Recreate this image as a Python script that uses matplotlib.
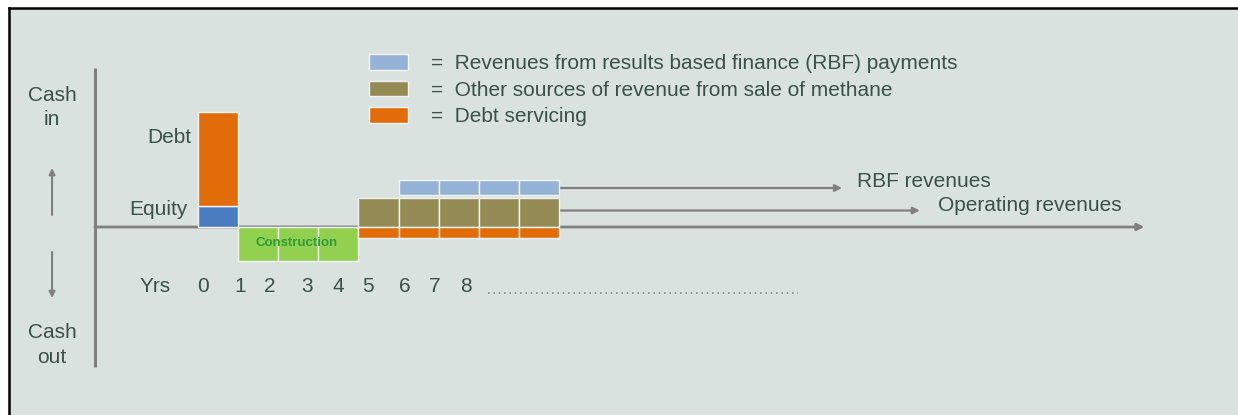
import numpy as np
import matplotlib.pyplot as plt
from matplotlib.patches import Patch

# cash flow profile of the project, one cell per year (+ = cash in, - = cash out)
years = np.arange(9)
equity       = [2.1, 0, 0, 0, 0, 0, 0, 0, 0]
debt         = [9.4, 0, 0, 0, 0, 0, 0, 0, 0]
construction = [0, -3.4, -3.4, -3.4, 0, 0, 0, 0, 0]
methane_rev  = [0, 0, 0, 0, 2.9, 2.9, 2.9, 2.9, 2.9]
rbf_rev      = [0, 0, 0, 0, 0, 1.5, 1.5, 1.5, 1.5]
debt_service = [0, 0, 0, 0, -1.1, -1.1, -1.1, -1.1, -1.1]

year_labels = ['0', '1', '2', '3', '4', '5', '6', '7', '8']
legend_labels = ['Revenues from results based finance (RBF) payments',
                 'Other sources of revenue from sale of methane',
                 'Debt servicing']

# colours
BG = '#dae2df'
TXT = '#3a5049'
GREY = '#7f7f7f'
C_EQ, C_DEBT, C_RBF = '#4a7dc0', '#e36c0a', '#95b3d7'
C_METH, C_CONS = '#948a54', '#92d050'

W, H, DPI = 1238, 415, 100
X0, U = 198, 40.1   # pixel of year 0, pixels per year
Y0, V = 227, 10.0   # pixel of zero cash, pixels per unit

fig = plt.figure(figsize=(W / DPI, H / DPI), dpi=DPI, facecolor='white')
ax = fig.add_axes([9 / W, 0, (W - 9) / W, (H - 8) / H])
ax.set_facecolor(BG)
ax.set_xlim((9 - X0) / U, (W - X0) / U)
ax.set_ylim((Y0 - H) / V, (Y0 - 8) / V)
ax.set_xticks([])
ax.set_yticks([])
for s in ['right', 'bottom']:
    ax.spines[s].set_visible(False)
for s in ['top', 'left']:
    ax.spines[s].set_color('black')
    ax.spines[s].set_linewidth(1.8)


def cells(vals):
    v = np.asarray(vals, dtype=float)
    m = v != 0
    return years[m], v[m]


bar_kw = dict(width=1.0, align='edge', edgecolor='#f4f4f4', linewidth=1.0, zorder=3)
stack_gap = 0.3

x, v = cells(equity)
ax.bar(x, v, color=C_EQ, **bar_kw)
x, v = cells(debt)
ax.bar(x, v, bottom=np.asarray(equity)[x], color=C_DEBT, **bar_kw)
x, v = cells(construction)
ax.bar(x, v, color=C_CONS, **bar_kw)
x, v = cells(methane_rev)
ax.bar(x, v, color=C_METH, **bar_kw)
x, v = cells(rbf_rev)
ax.bar(x, v, bottom=np.asarray(methane_rev)[x] + stack_gap, color=C_RBF, **bar_kw)
x, v = cells(debt_service)
ax.bar(x, v, color=C_DEBT, **bar_kw)

# axes of the sketch
ax_x = -2.57
ax.plot([ax_x, ax_x], [15.9, -14.0], color=GREY, lw=2.2, zorder=2, solid_capstyle='butt')
arrow = dict(arrowstyle='-|>', color=GREY, lw=2.0, mutation_scale=10, shrinkA=0, shrinkB=0)
ax.annotate('', xy=(23.6, 0), xytext=(ax_x, 0), arrowprops=arrow, zorder=2)
ax.annotate('', xy=(16.06, 3.9), xytext=(9.0, 3.9), arrowprops=dict(arrow, lw=1.6), zorder=2)
ax.annotate('', xy=(18.0, 1.65), xytext=(9.0, 1.65), arrowprops=dict(arrow, lw=1.6), zorder=2)

# cash in / cash out
thin = dict(arrowstyle='-|>', color=GREY, lw=1.5, mutation_scale=9, shrinkA=0, shrinkB=0)
ax.annotate('', xy=(-3.64, 5.9), xytext=(-3.64, 1.2), arrowprops=thin)
ax.annotate('', xy=(-3.64, -7.1), xytext=(-3.64, -2.5), arrowprops=thin)

tk = dict(color=TXT, fontsize=15, family='Liberation Sans')
ax.text(-3.64, 11.95, 'Cash\nin', ha='center', va='center', linespacing=1.35, **tk)
ax.text(-3.64, -11.8, 'Cash\nout', ha='center', va='center', linespacing=1.35, **tk)
ax.text(-0.17, 9.0, 'Debt', ha='right', va='center', **tk)
ax.text(-0.25, 1.8, 'Equity', ha='right', va='center', **tk)
ax.text(16.43, 4.6, 'RBF revenues', ha='left', va='center', **tk)
ax.text(18.45, 2.2, 'Operating revenues', ha='left', va='center', **tk)
ax.text(2.47, -1.6, 'Construction', ha='center', va='center', color='#2f9a3a',
        fontsize=9.5, fontweight='bold', family='Liberation Sans', zorder=4)

# year row
ax.text(-1.07, -5.9, 'Yrs', ha='center', va='center', **tk)
label_pos = [0.12, 1.05, 1.8, 2.73, 3.5, 4.25, 5.15, 5.9, 6.67]
for p, lab in zip(label_pos, year_labels):
    ax.text(p, -5.9, lab, ha='center', va='center', **tk)
ax.plot([7.23, 14.96], [-6.6, -6.6], color='#8a8a8a', lw=1.2, linestyle=(0, (1, 2.2)))

handles = [Patch(facecolor=c, edgecolor='#f4f4f4', linewidth=1.0)
           for c in [C_RBF, C_METH, C_DEBT]]
ax.legend(handles, ['=  ' + s for s in legend_labels], loc='upper left',
          bbox_to_anchor=(369 / W, 1 - 54 / H), bbox_transform=fig.transFigure,
          frameon=False, borderpad=0, borderaxespad=0, handlelength=1.87,
          handleheight=0.77, handletextpad=1.1, labelspacing=0.37, labelcolor=TXT,
          prop=dict(family='Liberation Sans', size=15))

fig.savefig('out.png', dpi=DPI, facecolor='white')
